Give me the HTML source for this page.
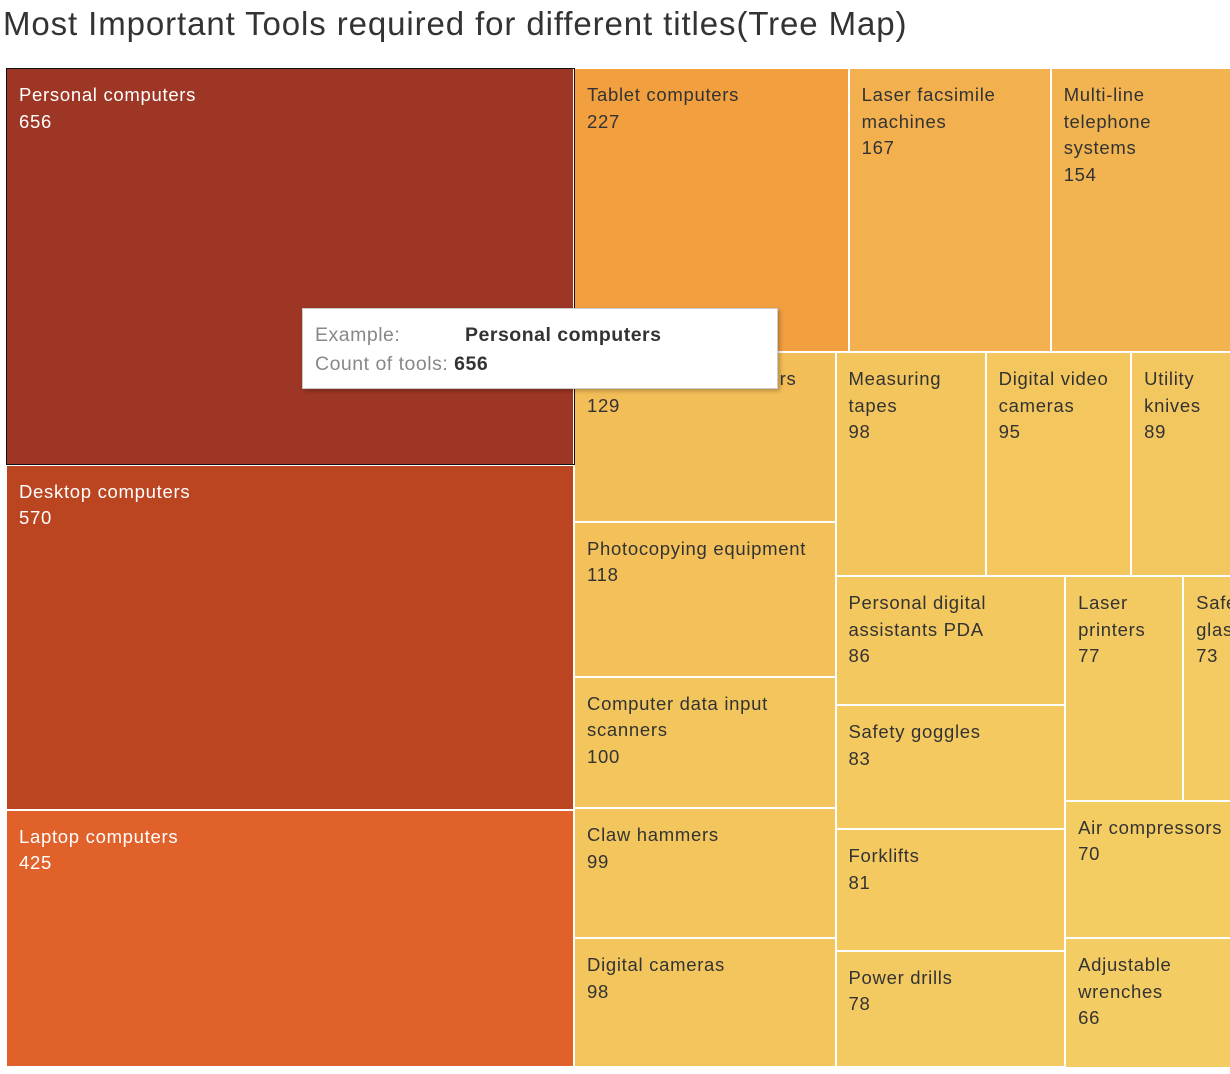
<!DOCTYPE html>
<html><head><meta charset="utf-8">
<style>
html,body{margin:0;width:1230px;height:1074px;overflow:hidden;}
body{background:#fff;position:relative;font-family:"Liberation Sans",sans-serif;}
#title{position:absolute;left:3px;top:5px;font-size:33px;color:#333;font-weight:normal;letter-spacing:0.9px;white-space:nowrap;}
#chart{position:absolute;left:0;top:0;width:1230px;height:1069px;overflow:hidden;}
.tile{position:absolute;box-sizing:border-box;border-right:2px solid #fff;border-bottom:2px solid #fff;overflow:hidden;padding:13px 14px 0 12px;font-size:18.5px;line-height:26.5px;letter-spacing:0.7px;}
.tile span{display:block}
#tooltip{position:absolute;left:302px;top:308px;width:476px;height:81px;background:#fff;border:1px solid #ccc;box-shadow:2px 2px 4px rgba(0,0,0,0.25);box-sizing:border-box;font-size:19.5px;line-height:29px;padding:12px 0 0 12px;letter-spacing:0.5px;}
#tooltip .k{color:#888;display:inline-block;width:150px}
#tooltip .v{color:#333;font-weight:bold}
</style></head><body>
<div id="title">Most Important Tools required for different titles(Tree Map)</div>
<div id="chart"></div>
<div id="tooltip">
<div><span class="k">Example:</span><span class="v">Personal computers</span></div>
<div><span class="k" style="width:auto">Count of tools:</span> <span class="v">656</span></div>
</div>
<script>
const labels=["Personal computers","Desktop computers","Laptop computers","Tablet computers","Laser facsimile machines","Multi-line telephone systems","Computer laser printers","Photocopying equipment","Computer data input scanners","Claw hammers","Digital cameras","Measuring tapes","Digital video cameras","Utility knives","Personal digital assistants PDA","Safety goggles","Forklifts","Power drills","Laser printers","Safety glasses","Air compressors","Adjustable wrenches"];
const values=[656,570,425,227,167,154,129,118,100,99,98,98,95,89,86,83,81,78,77,73,70,66];
// strips: direction, item count (layout structure)
const stripDir=["v","h","v","h","v","h","v"];
const stripCount=[3,3,5,3,4,2,2];
const stripLen=[999,663,715,432,491,230,267];
const K=343.7; // px^2 per unit
const stops=[[60,[243,206,100]],[100,[243,197,93]],[130,[243,189,87]],[160,[242,178,80]],[230,[241,158,62]],[425,[224,97,42]],[570,[187,68,33]],[656,[158,54,37]]];
function color(v){
  for(let i=1;i<stops.length;i++){if(v<=stops[i][0]){const a=stops[i-1],b=stops[i];const t=(v-a[0])/(b[0]-a[0]);return 'rgb('+a[1].map((c,j)=>Math.round(c+(b[1][j]-c)*t)).join(',')+')';}}
  return 'rgb('+stops[stops.length-1][1].join(',')+')';
}
const chart=document.getElementById('chart');
let rem={x:7,y:69};
let idx=0;
for(let s=0;s<stripDir.length;s++){
  const items=[];for(let k=0;k<stripCount[s];k++)items.push(idx+k);
  const sum=items.reduce((a,i)=>a+values[i],0);
  const len=stripLen[s];const th=sum*K/len;
  let pos=0;
  items.forEach(i=>{
    const l=values[i]/sum*len;
    const d=document.createElement('div');
    d.className='tile';
    
    
    let x,y,w,h;
    if(stripDir[s]=="v"){x=rem.x;y=rem.y+pos;w=th;h=l;}else{x=rem.x+pos;y=rem.y;w=l;h=th;}
    d.style.left=x+'px';d.style.top=y+'px';d.style.width=w+'px';d.style.height=h+'px';
    d.style.background=color(values[i]);
    d.style.color=values[i]>300?'#fff':'#333';
    d.innerHTML='<span>'+labels[i]+'</span><span>'+values[i]+'</span>';
    chart.appendChild(d);
    pos+=l;
  });
  if(stripDir[s]=="v")rem.x+=th;else rem.y+=th;
  idx+=stripCount[s];
}
const f=document.createElement('div');


f.className='tile';f.style.left=rem.x+'px';f.style.top=rem.y+'px';f.style.width='200px';f.style.height=Math.max(0,1069-rem.y)+'px';f.style.background=color(60);
chart.appendChild(f);
const sel=document.createElement('div');


sel.style.cssText='position:absolute;box-sizing:border-box;border:1.5px solid #111;left:6px;top:68px;width:'+(1651*K/999+1)+'px;height:'+(656/1651*999)+'px;';
chart.appendChild(sel);
</script>
</body></html>
